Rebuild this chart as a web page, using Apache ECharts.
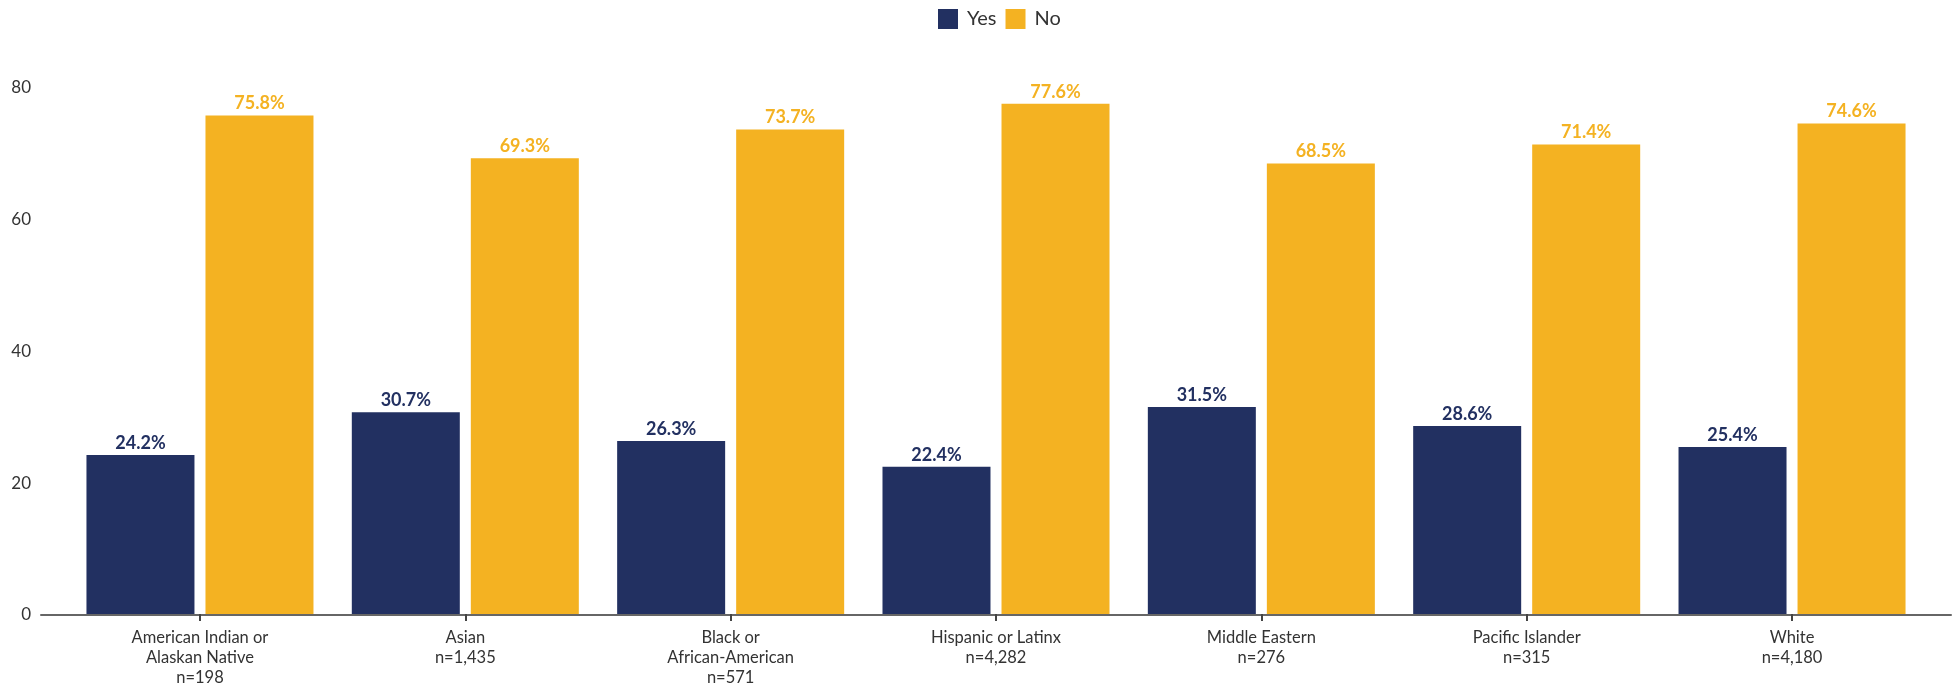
<!DOCTYPE html>
<html>
<head>
<meta charset="utf-8">
<script src="https://cdn.jsdelivr.net/npm/echarts@6/dist/echarts.min.js"></script>
<style>
html,body{margin:0;padding:0;background:#fff;}
#chart{width:1958px;height:688px;}
</style>
</head>
<body>
<div id="chart"></div>
<script>
const categories = ["American Indian or\nAlaskan Native", "Asian", "Black or\nAfrican-American", "Hispanic or Latinx", "Middle Eastern", "Pacific Islander", "White"];
const sampleSizes = [198, 1435, 571, 4282, 276, 315, 4180];
const yesValues = [24.2, 30.7, 26.3, 22.4, 31.5, 28.6, 25.4];
const noValues = [75.8, 69.3, 73.7, 77.6, 68.5, 71.4, 74.6];
const yTicks = [0, 20, 40, 60, 80];

const NAVY = '#223061';
const GOLD = '#F4B222';
const FONT = 'Lato';

const catLabels = categories.map((c, i) => c + '\nn=' + sampleSizes[i].toLocaleString('en-US'));

const chart = echarts.init(document.getElementById('chart'), null, {renderer: 'canvas'});
chart.setOption({
  animation: false,
  textStyle: {fontFamily: FONT},
  legend: {
    data: ['Yes', 'No'],
    left: 933,
    top: 4,
    itemWidth: 20,
    itemHeight: 20,
    itemGap: 9,
    icon: 'rect',
    textStyle: {fontFamily: FONT, fontSize: 20, color: '#333', padding: [0, 0, 0, 4]}
  },
  grid: [
    {left: 67.3, right: 33.3, top: 88, bottom: 73},
    {left: 41, right: 7, top: 88, bottom: 73}
  ],
  xAxis: [
    {
      type: 'category',
      gridIndex: 0,
      data: catLabels,
      axisLine: {show: false},
      axisTick: {show: true, alignWithLabel: true, length: 7, lineStyle: {color: '#444', width: 2}},
      axisLabel: {
        interval: 0,
        margin: 14,
        fontFamily: FONT,
        fontSize: 16.5,
        lineHeight: 20,
        color: '#333',
        align: 'center'
      }
    },
    {
      type: 'value',
      gridIndex: 1,
      min: 0,
      max: 1,
      axisLine: {show: true, onZero: false, lineStyle: {color: '#666', width: 2}},
      axisTick: {show: false},
      axisLabel: {show: false},
      splitLine: {show: false}
    }
  ],
  yAxis: [
    {
      type: 'value',
      gridIndex: 0,
      min: yTicks[0],
      max: yTicks[yTicks.length - 1],
      interval: 20,
      show: false
    },
    {
      type: 'value',
      gridIndex: 1,
      min: yTicks[0],
      max: yTicks[yTicks.length - 1],
      interval: 20,
      axisLine: {show: false},
      axisTick: {show: false},
      splitLine: {show: false},
      axisLabel: {margin: 10, fontFamily: FONT, fontSize: 17, color: '#333'}
    }
  ],
  series: [
    {
      name: 'Yes',
      type: 'bar',
      xAxisIndex: 0,
      yAxisIndex: 0,
      data: yesValues,
      barWidth: 108,
      barGap: '10.2%',
      itemStyle: {color: NAVY},
      label: {
        show: true,
        position: 'top',
        distance: 3,
        formatter: p => p.value.toFixed(1) + '%',
        fontFamily: FONT,
        fontWeight: 'bold',
        fontSize: 18,
        color: NAVY
      }
    },
    {
      name: 'No',
      type: 'bar',
      xAxisIndex: 0,
      yAxisIndex: 0,
      data: noValues,
      barWidth: 108,
      barGap: '10.2%',
      itemStyle: {color: GOLD},
      label: {
        show: true,
        position: 'top',
        distance: 3,
        formatter: p => p.value.toFixed(1) + '%',
        fontFamily: FONT,
        fontWeight: 'bold',
        fontSize: 18,
        color: GOLD
      }
    }
  ]
});
</script>
</body>
</html>
